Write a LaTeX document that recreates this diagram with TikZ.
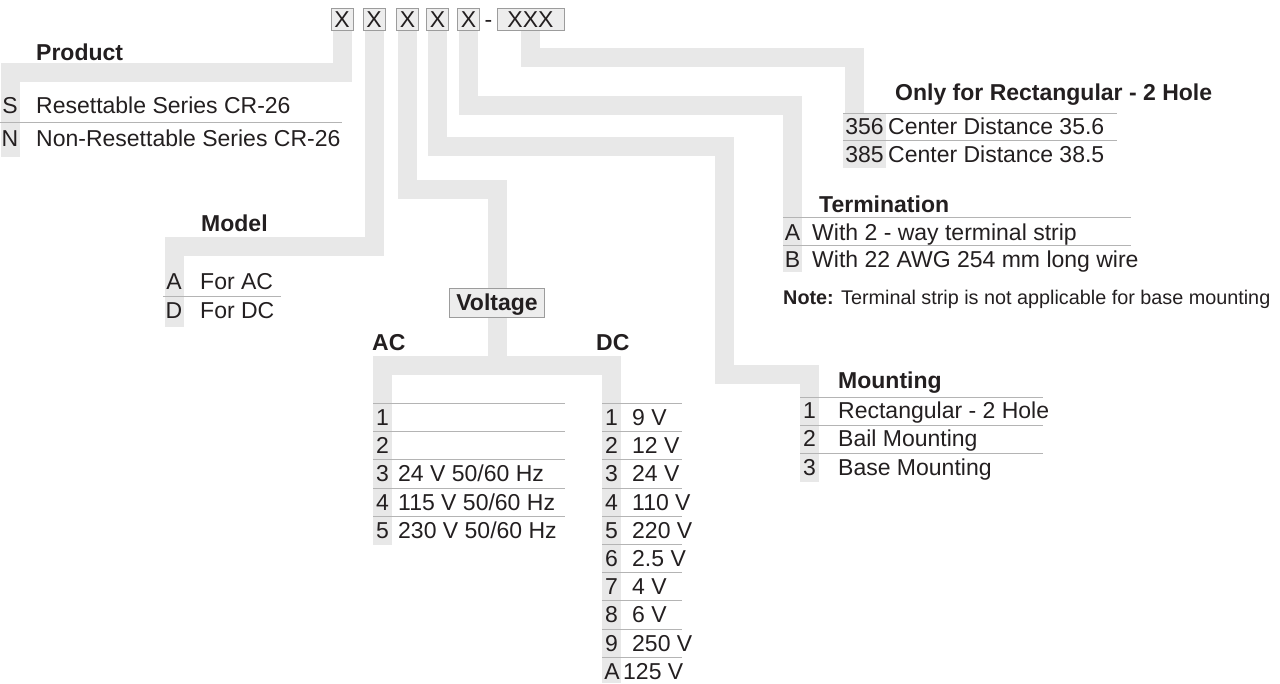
\documentclass[tikz,border=0pt]{standalone}
\usepackage{fontspec}
\setmainfont{Liberation Sans}
\usetikzlibrary{positioning, backgrounds}
\definecolor{bandgray}{HTML}{E8E8E8}
\definecolor{rulegray}{HTML}{B4B4B4}
\definecolor{boxedge}{HTML}{9C9C9C}
\definecolor{boxfill}{HTML}{EDEDED}
\definecolor{ink}{HTML}{231F20}

\begin{document}
\begin{tikzpicture}[x=1pt, y=-1pt, text=ink,
    band/.style={draw=bandgray, line width=19pt},
    digit/.style={rectangle, draw=boxedge, fill=boxfill, minimum width=22pt, minimum height=22pt, inner sep=0pt, text height=16.5pt, text depth=0pt, font=\fontsize{23}{27}\selectfont},
    desc/.style={anchor=west, inner sep=0pt, text height=16.5pt, text depth=0pt, font=\fontsize{23}{27}\selectfont},
    head/.style={desc, font=\fontsize{23}{27}\selectfont\bfseries},
    key/.style={inner sep=0pt, text height=16.5pt, text depth=0pt, font=\fontsize{23}{27}\selectfont},
    sep/.style={draw=rulegray, line width=1pt}]

    \useasboundingbox (0,0) rectangle (1280,683);

    % code boxes
    \node [digit] (bx1) at (342,19) {X};
    \node [digit] (bx2) at (374,19) {X};
    \node [digit] (bx3) at (407.5,19) {X};
    \node [digit] (bx4) at (437.5,19) {X};
    \node [digit] (bx5) at (468.5,19) {X};
    \node [key, inner xsep=1pt] (dash) at (488.5,19) {-};
    \node [digit, minimum width=67pt] (bxN) at (530.5,19) {XXX};
    \node [head, fill=boxfill, draw=boxedge, inner xsep=7pt, minimum height=29pt, anchor=center] (volt) at (497,302.5) {Voltage};

    % band ends and bends
    \coordinate (pBend) at (10,72.5);    \coordinate (pEnd) at (10,157);
    \coordinate (mdBend) at (174,246.5); \coordinate (mdEnd) at (174,327);
    \coordinate (vBend) at (497,189);
    \coordinate (acTop) at (382.5,365.5); \coordinate (acEnd) at (382.5,545);
    \coordinate (dcTop) at (611.5,365.5); \coordinate (dcEnd) at (611.5,683);
    \coordinate (mBend1) at (724.5,146.5); \coordinate (mBend2) at (809.5,374.5);
    \coordinate (mEnd) at (809.5,482);
    \coordinate (tBend) at (792.5,105.5); \coordinate (tEnd) at (792.5,272);
    \coordinate (oBend) at (854,57.5);   \coordinate (oEnd) at (854,168);

    \begin{scope}[on background layer]
    \draw [band] (bx1.south) |- (pBend) -- (pEnd);
    \draw [band] (bx2.south) |- (mdBend) -- (mdEnd);
    \draw [band] (bx3.south) |- (vBend) -- (volt.north);
    \draw [band] (volt.south) |- (acTop) -- (acEnd);
    \draw [band] (volt.south) |- (dcTop) -- (dcEnd);
    \draw [band] (bx4.south) |- (mBend1) |- (mBend2) -- (mEnd);
    \draw [band] (bx5.south) |- (tBend) -- (tEnd);
    \draw [band] (bxN.south) |- (oBend) -- (oEnd);
    \fill [bandgray] (843,113) rectangle (886,168);
    \end{scope}

    % Product
    \node [head] (product) at (36,52) {Product};
    \node [key] (kS) at (10,105) {S};
    \node [desc] (dS) at (36,105) {Resettable Series CR-26};
    \draw [sep] (0,122) -- (342,122);
    \node [key] (kN) at (10,138) {N};
    \node [desc] (dN) at (36,138) {Non-Resettable Series CR-26};

    % Model
    \node [head] (model) at (201,223) {Model};
    \node [key] (kA) at (174,281) {A};
    \node [desc] (dA) at (200,281) {For AC};
    \draw [sep] (163,296) -- (281,296);
    \node [key] (kD) at (174,310) {D};
    \node [desc] (dD) at (200,310) {For DC};

    % Voltage
    \node [head] (ac) at (372,342) {AC};
    \node [head] (dc) at (596,342) {DC};
    \draw [sep] (373,403) -- (565,403);
    \draw [sep] (373,431) -- (565,431);
    \draw [sep] (373,459) -- (565,459);
    \draw [sep] (373,488) -- (565,488);
    \draw [sep] (373,516) -- (565,516);
    \node [key] (ac1) at (382.5,417) {1};
    \node [key] (ac2) at (382.5,445) {2};
    \node [key] (ac3) at (382.5,473) {3};
    \node [desc] at (398,473) {24 V 50/60 Hz};
    \node [key] (ac4) at (382.5,502) {4};
    \node [desc] at (398,502) {115 V 50/60 Hz};
    \node [key] (ac5) at (382.5,530) {5};
    \node [desc] at (398,530) {230 V 50/60 Hz};

    \draw [sep] (602,403) -- (682,403);
    \draw [sep] (602,431) -- (682,431);
    \draw [sep] (602,459) -- (682,459);
    \draw [sep] (602,488) -- (682,488);
    \draw [sep] (602,516) -- (682,516);
    \draw [sep] (602,544) -- (682,544);
    \draw [sep] (602,572) -- (682,572);
    \draw [sep] (602,600) -- (682,600);
    \draw [sep] (602,629) -- (682,629);
    \draw [sep] (602,657) -- (682,657);
    \node [key] (dc1) at (611.5,417) {1}; \node [desc] at (632,417) {9 V};
    \node [key] (dc2) at (611.5,445) {2}; \node [desc] at (632,445) {12 V};
    \node [key] (dc3) at (611.5,473) {3}; \node [desc] at (632,473) {24 V};
    \node [key] (dc4) at (611.5,502) {4}; \node [desc] at (632,502) {110 V};
    \node [key] (dc5) at (611.5,530) {5}; \node [desc] at (632,530) {220 V};
    \node [key] (dc6) at (611.5,558) {6}; \node [desc] at (632,558) {2.5 V};
    \node [key] (dc7) at (611.5,586) {7}; \node [desc] at (632,586) {4 V};
    \node [key] (dc8) at (611.5,614) {8}; \node [desc] at (632,614) {6 V};
    \node [key] (dc9) at (611.5,643) {9}; \node [desc] at (632,643) {250 V};
    \node [key] (dcA) at (612,671) {A};  \node [desc] at (623,671) {125 V};

    % Only for Rectangular - 2 Hole
    \node [head] (rect) at (895,92) {Only for Rectangular - 2 Hole};
    \draw [sep] (843,113) -- (1117,113);
    \node [key] (k356) at (864.5,126) {356};
    \node [desc] at (888,126) {Center Distance 35.6};
    \draw [sep] (843,140) -- (1117,140);
    \node [key] (k385) at (864.5,154) {385};
    \node [desc] at (888,154) {Center Distance 38.5};

    % Termination
    \node [head] (term) at (819,204) {Termination};
    \draw [sep] (783,217) -- (1131,217);
    \node [key] (kTA) at (792.5,232) {A};
    \node [desc] at (812,232) {With 2 - way terminal strip};
    \draw [sep] (783,245) -- (1131,245);
    \node [key] (kTB) at (792.5,259) {B};
    \node [desc] at (812,259) {With 22 AWG 254 mm long wire};
    \node [desc, font=\fontsize{19.8}{24}\selectfont, text height=14pt] (note) at (783,297) {\textbf{Note:} Terminal strip is not applicable for base mounting};

    % Mounting
    \node [head] (mount) at (838,380) {Mounting};
    \draw [sep] (800,397) -- (1043,397);
    \node [key] (kM1) at (809.5,410) {1};
    \node [desc] at (838,410) {Rectangular - 2 Hole};
    \draw [sep] (800,425) -- (1043,425);
    \node [key] (kM2) at (809.5,438) {2};
    \node [desc] at (838,438) {Bail Mounting};
    \draw [sep] (800,453) -- (1043,453);
    \node [key] (kM3) at (809.5,467) {3};
    \node [desc] at (838,467) {Base Mounting};
\end{tikzpicture}
\end{document}
